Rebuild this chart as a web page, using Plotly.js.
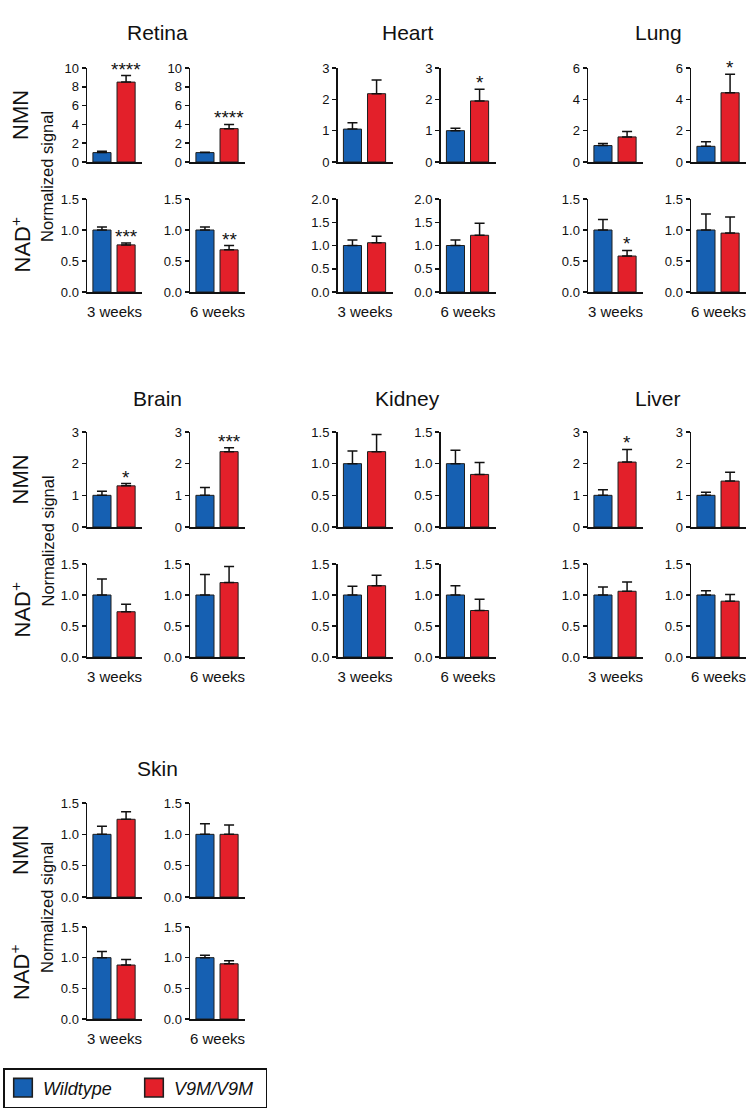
<!DOCTYPE html>
<html><head><meta charset="utf-8">
<script src="https://cdn.plot.ly/plotly-3.0.1.min.js"></script>
<style>html,body{margin:0;padding:0;background:#fff}</style>
</head><body><div id="chart" style="width:750px;height:1109px"></div>
<script>
// ---------------- data ----------------
const tissues = ['Retina','Heart','Lung','Brain','Kidney','Liver','Skin'];
const timepoints = ['3 weeks','6 weeks'];
const groups = ['Wildtype','V9M/V9M'];
const measures = ['NMN','NAD<sup>+</sup>'];
// each entry: [3 weeks, 6 weeks]
const nmnWT      = [[1.0,1.0],[1.05,1.0],[1.05,1.0],[1.0,1.0],[1.0,1.0],[1.0,1.0],[1.0,1.0]];
const nmnWTerr   = [[0.15,0.05],[0.2,0.08],[0.13,0.3],[0.13,0.25],[0.2,0.21],[0.18,0.1],[0.13,0.17]];
const nmnMut     = [[8.5,3.55],[2.18,1.95],[1.6,4.42],[1.3,2.38],[1.19,0.83],[2.05,1.45],[1.24,1.0]];
const nmnMutErr  = [[0.7,0.45],[0.44,0.37],[0.35,1.18],[0.07,0.12],[0.27,0.19],[0.4,0.28],[0.12,0.15]];
const nadWT      = [[1.0,1.0],[1.0,1.0],[1.0,1.0],[1.0,1.0],[1.0,1.0],[1.0,1.0],[1.0,1.0]];
const nadWTerr   = [[0.05,0.05],[0.12,0.12],[0.17,0.26],[0.26,0.33],[0.14,0.15],[0.13,0.07],[0.1,0.04]];
const nadMut     = [[0.76,0.68],[1.06,1.22],[0.58,0.95],[0.73,1.2],[1.15,0.75],[1.06,0.9],[0.88,0.9]];
const nadMutErr  = [[0.03,0.07],[0.14,0.26],[0.09,0.26],[0.12,0.26],[0.17,0.18],[0.15,0.11],[0.09,0.05]];
const nmnStars   = [['****','****'],['','*'],['','*'],['*','***'],['',''],['*',''],['','']];
const nadStars   = [['***','**'],['',''],['*',''],['',''],['',''],['',''],['','']];
const nmnYMax    = [10,3,6,3,1.5,3,1.5];
const nadYMax    = [1.5,2.0,1.5,1.5,1.5,1.5,1.5];

// ---------------- layout geometry (pixels) ----------------
const W = 750, H = 1109;
const colLeft = [87, 337.5, 588];
const rowBands = [
  {nmn:[68,162], nad:[199,292], title:33},
  {nmn:[432,527], nad:[564,657], title:398},
  {nmn:[803,897], nad:[927,1019], title:768}
];
const plotW = 55, secondOffset = 103;
const colors = ['#1660b2', '#e3202a'];
const FONT = 'Arial, "Liberation Sans", sans-serif';
const px = v => v / W;
const py = v => 1 - v / H;

const data = [];
const layout = {
  width: W, height: H,
  margin: {l:0, r:0, t:0, b:0},
  paper_bgcolor: '#fff', plot_bgcolor: '#fff',
  barmode: 'overlay',
  font: {family: FONT, color: '#111'},
  showlegend: true,
  legend: {
    orientation: 'h', x: px(3), y: py(1068), xanchor: 'left', yanchor: 'top',
    bordercolor: '#111', borderwidth: 1.5, bgcolor: '#fff',
    font: {size: 18, style: 'italic', family: FONT, color: '#111'},
    entrywidth: 86, entrywidthmode: 'pixels',
    itemclick: false, itemdoubleclick: false
  },
  annotations: [],
  shapes: []
};

let first = true;
tissues.forEach((tissue, t) => {
  const col = t % 3, row = Math.floor(t / 3);
  const band = rowBands[row];
  layout.annotations.push({
    text: tissue, xref: 'paper', yref: 'paper',
    x: px(colLeft[col] + 70), y: py(band.title),
    xanchor: 'center', yanchor: 'middle', showarrow: false,
    font: {size: 21, family: FONT, color: '#111'}
  });
  if (col === 0) {
    layout.annotations.push({
      text: measures[0], xref:'paper', yref:'paper', x: px(20), y: py((band.nmn[0]+band.nmn[1])/2),
      textangle: -90, showarrow:false, xanchor:'center', yanchor:'middle',
      font:{size:22, family:FONT, color:'#111'}
    });
    layout.annotations.push({
      text: measures[1], xref:'paper', yref:'paper', x: px(20), y: py((band.nad[0]+band.nad[1])/2),
      textangle: -90, showarrow:false, xanchor:'center', yanchor:'middle',
      font:{size:22, family:FONT, color:'#111'}
    });
    layout.annotations.push({
      text: 'Normalized signal', xref:'paper', yref:'paper', x: px(47), y: py((band.nmn[0]+band.nad[1])/2 - 3),
      textangle: -90, showarrow:false, xanchor:'center', yanchor:'middle',
      font:{size:16.5, family:FONT, color:'#111'}
    });
  }
  [0,1].forEach(m => {
    const wt = m === 0 ? nmnWT[t] : nadWT[t];
    const wtErr = m === 0 ? nmnWTerr[t] : nadWTerr[t];
    const mut = m === 0 ? nmnMut[t] : nadMut[t];
    const mutErr = m === 0 ? nmnMutErr[t] : nadMutErr[t];
    const stars = m === 0 ? nmnStars[t] : nadStars[t];
    const ymax = m === 0 ? nmnYMax[t] : nadYMax[t];
    const yb = m === 0 ? band.nmn : band.nad;
    [0,1].forEach(j => {
      const idx = t*4 + m*2 + j + 1;
      const xa = 'x' + idx, ya = 'y' + idx;
      const left = colLeft[col] + j*secondOffset;
      const dtick = ymax <= 2 ? 0.5 : (ymax === 3 ? 1 : 2);
      const xaxis = {
        domain: [px(left), px(left + plotW)], anchor: ya,
        range: [-0.62, 1.66], showline: true, linecolor: '#111', linewidth: 1.5,
        ticks: '', showticklabels: false, showgrid: false, zeroline: false, fixedrange: true
      };
      if (m === 1) {
        xaxis.title = {text: timepoints[j], font:{size:15, family:FONT, color:'#111'}, standoff: 14};
      }
      layout['xaxis' + idx] = xaxis;
      layout['yaxis' + idx] = {
        domain: [py(yb[1]), py(yb[0])], anchor: xa,
        range: [0, ymax], dtick: dtick, tick0: 0,
        tickformat: ymax <= 2 ? '.1f' : 'd',
        showline: true, linecolor: '#111', linewidth: 1.5,
        ticks: 'outside', ticklen: 4, tickwidth: 1.5, tickcolor: '#111',
        tickfont: {size: 13, family: FONT, color: '#111'},
        showgrid: false, zeroline: false, fixedrange: true
      };
      [[wt[j], wtErr[j]], [mut[j], mutErr[j]]].forEach((v, g) => {
        data.push({
          type: 'bar', x: [g], y: [v[0]], xaxis: xa, yaxis: ya,
          name: groups[g], legendgroup: groups[g], showlegend: first,
          width: 0.75,
          marker: {color: colors[g], line: {color: '#1e1e1e', width: 1}},
          error_y: {type:'data', symmetric:false, array:[v[1]], arrayminus:[0],
                    color:'#111', thickness:1.5, width:5},
          hoverinfo: 'y'
        });
      });
      first = false;
      if (stars[j]) {
        layout.annotations.push({
          text: stars[j], xref: xa, yref: ya, x: 1, y: mut[j] + mutErr[j],
          xanchor: 'center', yanchor: 'bottom', yshift: -6, showarrow: false,
          font: {size: 19, family: FONT, color: '#111'}
        });
      }
    });
  });
});
Plotly.newPlot('chart', data, layout, {staticPlot: true}).then(gd => {
  // enlarge legend swatches to match the reference's square keys
  gd.querySelectorAll('.legend .legendpoints path').forEach(p => {
    const t = p.getAttribute('transform') || '';
    p.setAttribute('transform', t + ' scale(1.55)');
  });
});
</script>
</body></html>
